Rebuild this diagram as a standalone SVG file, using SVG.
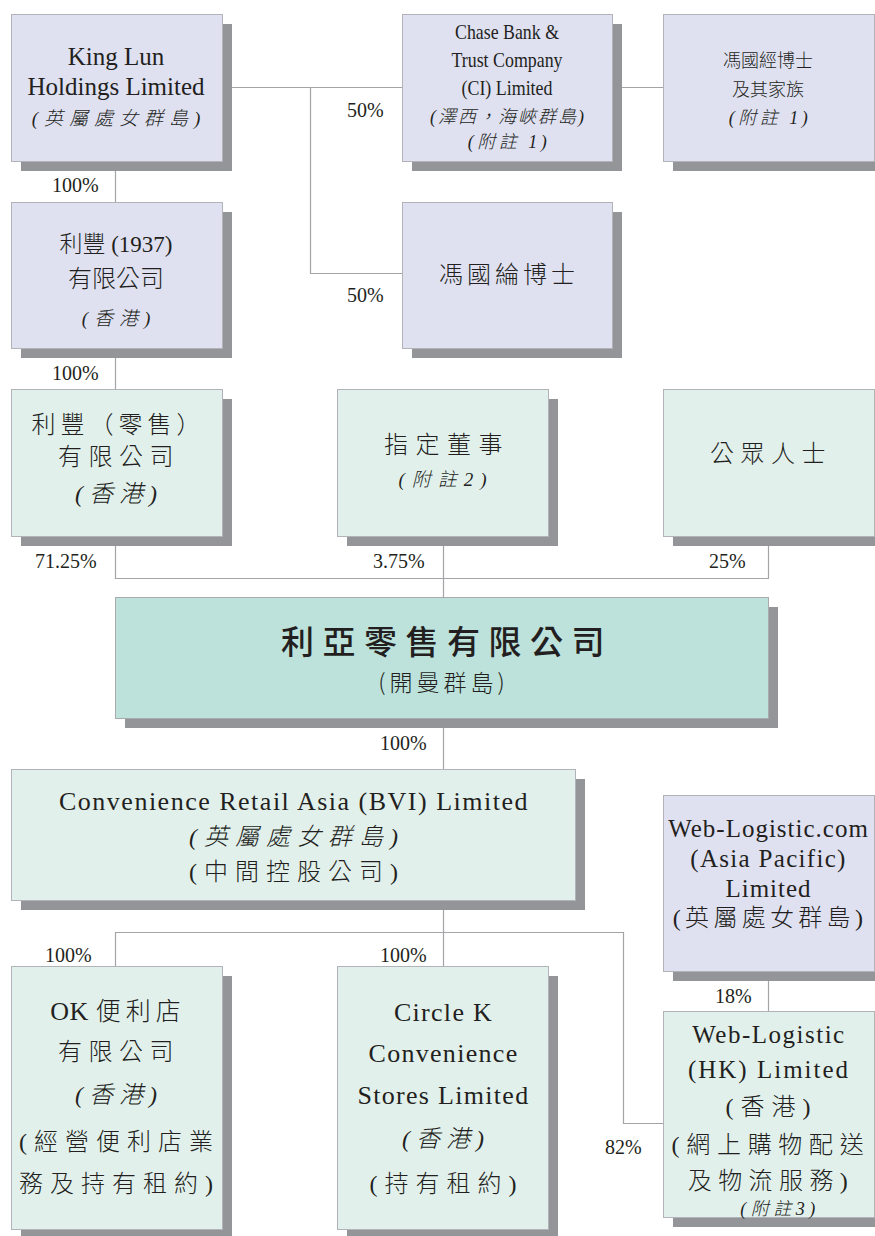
<svg xmlns="http://www.w3.org/2000/svg" width="875" height="1236" viewBox="0 0 875 1236">
<style>
.sh{fill:#939598}
.bp{fill:#dfe1f1;stroke:#b1b3b8;stroke-width:1}
.bg{fill:#e2f0ec;stroke:#b1b3b8;stroke-width:1}
.bm{fill:#bde2dc;stroke:#a8aaad;stroke-width:1}
.ln{fill:none;stroke:#a2a4a7;stroke-width:1.2}
text{fill:#231f20;text-anchor:middle}
.t{font-family:"Liberation Serif","Noto Sans CJK TC",serif;font-weight:300}
.s{font-family:"Noto Sans CJK TC",sans-serif;font-weight:300}
.i{font-style:italic}
.p{font-family:"Liberation Serif",serif;font-size:20px;text-anchor:start}
</style>
<rect width="875" height="1236" fill="#ffffff"/>
<g id="connectors">
<path class="ln" d="M222,87.5 H402 M612,87.5 H663 M310.5,87.5 V273.5 H402"/>
<path class="ln" d="M115.5,161 V202 M115.5,348 V389"/>
<path class="ln" d="M115.5,536 V578.5 H768.5 V536 M443.5,536 V597"/>
<path class="ln" d="M443.5,718 V769"/>
<path class="ln" d="M443.5,900 V966 M115.5,966 V932.5 H623.5 V1123.5 H663"/>
<path class="ln" d="M768.5,971 V1011"/>
</g>
<g id="labels">
<text class="p" x="347" y="117">50%</text>
<text class="p" x="347" y="302">50%</text>
<text class="p" x="52" y="192">100%</text>
<text class="p" x="52" y="380">100%</text>
<text class="p" x="35" y="568">71.25%</text>
<text class="p" x="373" y="568">3.75%</text>
<text class="p" x="709" y="568">25%</text>
<text class="p" x="380" y="750">100%</text>
<text class="p" x="45" y="962">100%</text>
<text class="p" x="380" y="962">100%</text>
<text class="p" x="715" y="1003">18%</text>
<text class="p" x="605" y="1154">82%</text>
</g>
<g id="king-lun">
<rect class="sh" x="21" y="24" width="211" height="147"/>
<rect class="bp" x="11.5" y="14.5" width="211" height="147"/>
<text class="t" x="116" y="65" font-size="25">King Lun</text>
<text class="t" x="116" y="95" font-size="25">Holdings Limited</text>
<text class="t i" x="119" y="125" font-size="19" letter-spacing="6">(英屬處女群島)</text>
</g>
<g id="chase-bank">
<rect class="sh" x="412" y="24" width="210" height="147"/>
<rect class="bp" x="402.5" y="14.5" width="210" height="147"/>
<text class="t" x="507" y="39" font-size="21" textLength="104" lengthAdjust="spacingAndGlyphs">Chase Bank &amp;</text>
<text class="t" x="507" y="67" font-size="21" textLength="111" lengthAdjust="spacingAndGlyphs">Trust Company</text>
<text class="t" x="507" y="95" font-size="21" textLength="91" lengthAdjust="spacingAndGlyphs">(CI) Limited</text>
<text class="t i" x="508" y="123" font-size="18" letter-spacing="2">(澤西，海峽群島)</text>
<text class="t i" x="509" y="148" font-size="18" letter-spacing="3.5">(附註 1)</text>
</g>
<g id="fung-family">
<rect class="sh" x="673" y="24" width="211" height="147"/>
<rect class="bp" x="663.5" y="14.5" width="211" height="147"/>
<text class="s" x="768" y="67" font-size="18">馮國經博士</text>
<text class="s" x="768" y="96" font-size="18">及其家族</text>
<text class="t i" x="770" y="124" font-size="18" letter-spacing="3.5">(附註 1)</text>
</g>
<g id="li-fung-1937">
<rect class="sh" x="21" y="212" width="211" height="146"/>
<rect class="bp" x="11.5" y="202.5" width="211" height="146"/>
<text class="t" x="116" y="252" font-size="23">利豐 (1937)</text>
<text class="s" x="116" y="287" font-size="24">有限公司</text>
<text class="t i" x="119" y="325" font-size="19" letter-spacing="6">(香港)</text>
</g>
<g id="fung-kwok-lun">
<rect class="sh" x="412" y="212" width="210" height="146"/>
<rect class="bp" x="402.5" y="202.5" width="210" height="146"/>
<text class="s" x="509" y="283" font-size="24" letter-spacing="4">馮國綸博士</text>
</g>
<g id="li-fung-retail">
<rect class="sh" x="21" y="399" width="211" height="147"/>
<rect class="bg" x="11.5" y="389.5" width="211" height="147"/>
<text class="s" x="118.5" y="433" font-size="24" letter-spacing="5">利豐（零售）</text>
<text class="s" x="119" y="465" font-size="24" letter-spacing="6.5">有限公司</text>
<text class="t i" x="119" y="502" font-size="24" letter-spacing="6">(香港)</text>
</g>
<g id="directors">
<rect class="sh" x="347" y="399" width="211" height="147"/>
<rect class="bg" x="337.5" y="389.5" width="211" height="147"/>
<text class="s" x="447" y="453" font-size="24" letter-spacing="7.5">指定董事</text>
<text class="t i" x="446" y="486" font-size="19" letter-spacing="7">(附註2)</text>
</g>
<g id="public">
<rect class="sh" x="673" y="399" width="211" height="147"/>
<rect class="bg" x="663.5" y="389.5" width="211" height="147"/>
<text class="s" x="771" y="462" font-size="24" letter-spacing="6.5">公眾人士</text>
</g>
<g id="cr-asia">
<rect class="sh" x="125" y="607" width="653" height="121"/>
<rect class="bm" x="115.5" y="597.5" width="653" height="121"/>
<text class="s" x="447" y="654" font-size="33" letter-spacing="8.5" style="font-weight:500">利亞零售有限公司</text>
<text class="s" x="443.5" y="691" font-size="23" letter-spacing="4">(開曼群島)</text>
</g>
<g id="cra-bvi">
<rect class="sh" x="21" y="779" width="564" height="131"/>
<rect class="bg" x="11.5" y="769.5" width="564" height="131"/>
<text class="t" x="294" y="810" font-size="26" letter-spacing="1.5">Convenience Retail Asia (BVI) Limited</text>
<text class="t i" x="297" y="845" font-size="24" letter-spacing="7">(英屬處女群島)</text>
<text class="t" x="297" y="880" font-size="24" letter-spacing="7">(中間控股公司)</text>
</g>
<g id="web-logistic-com">
<rect class="sh" x="673" y="805" width="211" height="176"/>
<rect class="bp" x="663.5" y="795.5" width="211" height="176"/>
<text class="t" x="768.5" y="837" font-size="25" letter-spacing="1">Web-Logistic.com</text>
<text class="t" x="768.5" y="867" font-size="25" letter-spacing="1.3">(Asia Pacific)</text>
<text class="t" x="768.5" y="897" font-size="25" letter-spacing="1">Limited</text>
<text class="t" x="770" y="926" font-size="24" letter-spacing="4.3">(英屬處女群島)</text>
</g>
<g id="ok-stores">
<rect class="sh" x="21" y="976" width="211" height="263"/>
<rect class="bg" x="11.5" y="966.5" width="211" height="263"/>
<text class="t" x="118" y="1020" font-size="25" letter-spacing="5"><tspan font-size="26" letter-spacing="0.5">OK </tspan>便利店</text>
<text class="t" x="119" y="1060" font-size="24" letter-spacing="6.5">有限公司</text>
<text class="t i" x="119" y="1103" font-size="24" letter-spacing="6">(香港)</text>
<text class="t" x="119.5" y="1150" font-size="24" letter-spacing="7">(經營便利店業</text>
<text class="t" x="119.5" y="1192" font-size="24" letter-spacing="7">務及持有租約)</text>
</g>
<g id="circle-k">
<rect class="sh" x="347" y="976" width="211" height="263"/>
<rect class="bg" x="337.5" y="966.5" width="211" height="263"/>
<text class="t" x="443.5" y="1021" font-size="26" letter-spacing="1.3">Circle K</text>
<text class="t" x="443.5" y="1062" font-size="26" letter-spacing="1.3">Convenience</text>
<text class="t" x="443.5" y="1104" font-size="26" letter-spacing="1.3">Stores Limited</text>
<text class="t i" x="446" y="1147" font-size="24" letter-spacing="6">(香港)</text>
<text class="t" x="446.5" y="1192" font-size="24" letter-spacing="7">(持有租約)</text>
</g>
<g id="web-logistic-hk">
<rect class="sh" x="673" y="1021" width="211" height="206"/>
<rect class="bg" x="663.5" y="1011.5" width="211" height="206"/>
<text class="t" x="769" y="1043" font-size="25" letter-spacing="1.5">Web-Logistic</text>
<text class="t" x="769" y="1078" font-size="25" letter-spacing="2">(HK) Limited</text>
<text class="t" x="771.5" y="1115" font-size="24" letter-spacing="7">(香港)</text>
<text class="t" x="771" y="1153" font-size="24" letter-spacing="6.7">(網上購物配送</text>
<text class="t" x="771" y="1189" font-size="24" letter-spacing="6.4">及物流服務)</text>
<text class="t i" x="780" y="1215" font-size="18" letter-spacing="4.5">(附註3)</text>
</g>
</svg>
